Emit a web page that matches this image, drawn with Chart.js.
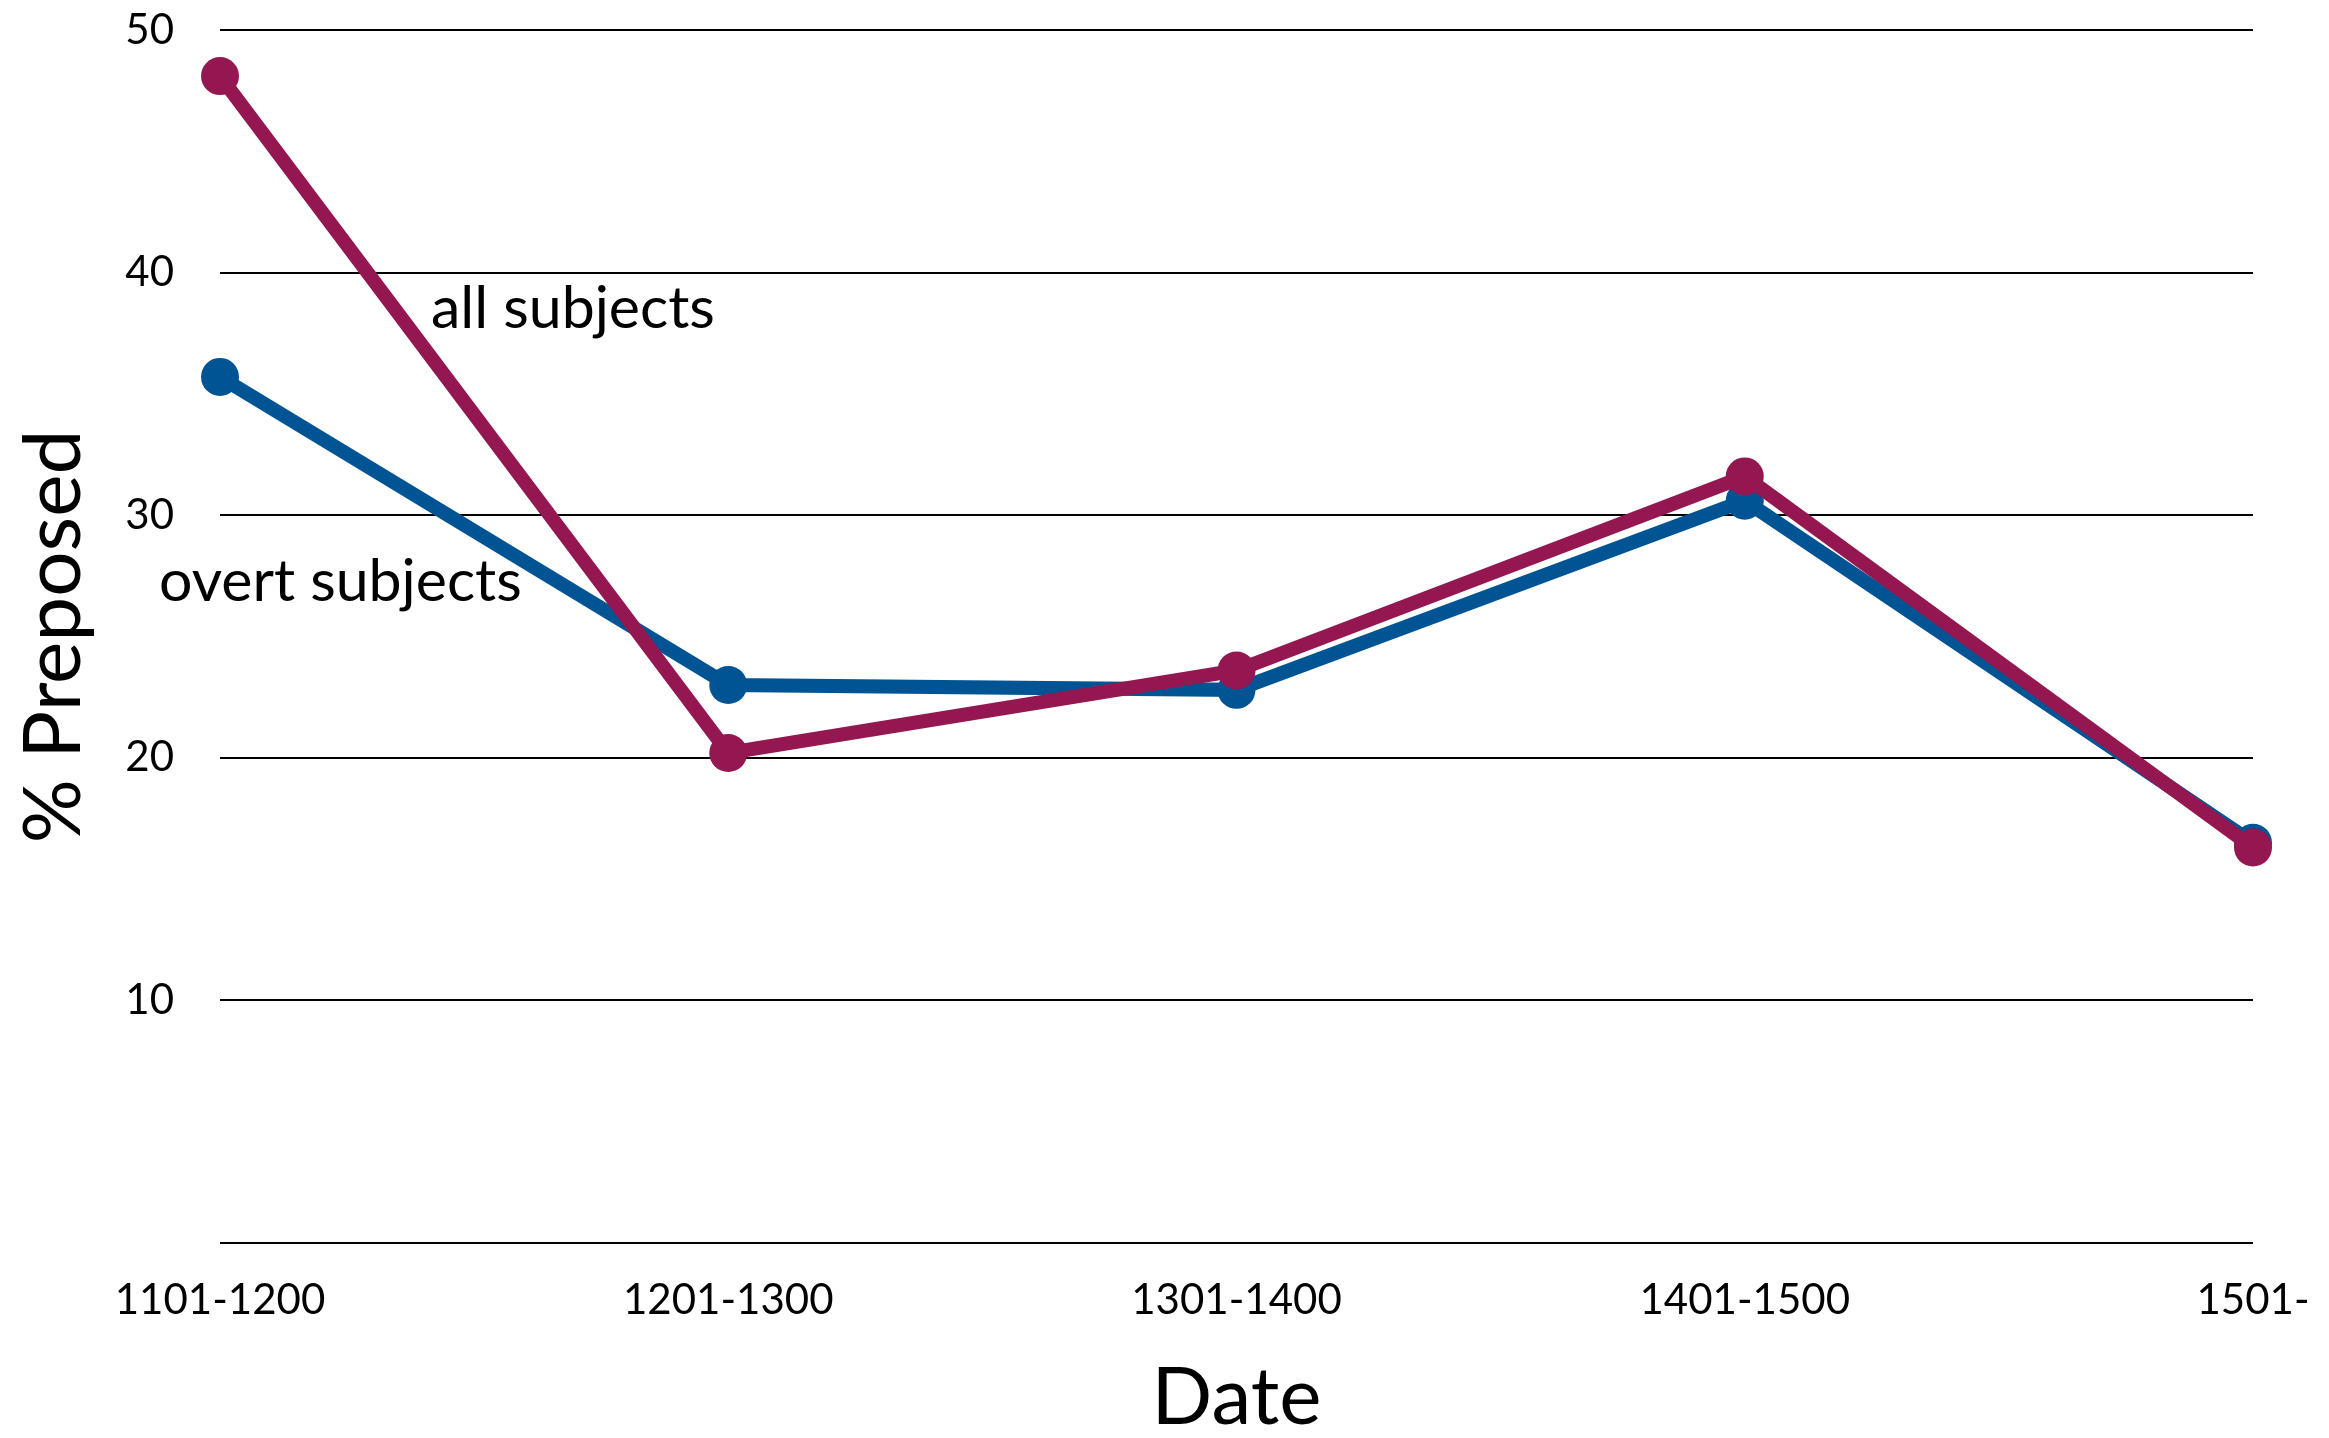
<!DOCTYPE html>
<html>
<head>
<meta charset="utf-8">
<title>% Preposed by Date</title>
<script src="https://cdn.jsdelivr.net/npm/chart.js@4"></script>
<style>
    html, body { margin: 0; padding: 0; background: #ffffff; }
    #chartWrap { width: 2329px; height: 1438px; }
</style>
</head>
<body>
<div id="chartWrap"><canvas id="preposedChart"></canvas></div>
<script>
// Chart data
const dateBands = ['1101-1200', '1201-1300', '1301-1400', '1401-1500', '1501-'];
const allSubjects = [48.1, 20.2, 23.6, 31.6, 16.3];
const overtSubjects = [35.7, 23.0, 22.8, 30.6, 16.5];
const yTicks = [0, 10, 20, 30, 40, 50];

// Series labels placed inside the plot, in data coordinates (category index, value)
const seriesNotes = [
    { text: 'all subjects', at: [0.415, 38.5] },
    { text: 'overt subjects', at: [-0.12, 27.25] }
];

const PURPLE = '#941751';
const BLUE = '#005493';
const FONT = "Lato, 'Open Sans', sans-serif";

document.addEventListener("DOMContentLoaded", () => {
    initPreposedChart();
});

/**
 * Writes the in-plot series labels next to their lines
 */
const noteLabels = {
    id: 'noteLabels',
    afterDatasetsDraw(chart) {
        const { ctx, scales: { x, y } } = chart;
        ctx.save();
        ctx.fillStyle = '#000000';
        ctx.font = `59px ${FONT}`;
        ctx.textAlign = 'left';
        ctx.textBaseline = 'middle';
        seriesNotes.forEach(note => {
            ctx.fillText(note.text, x.getPixelForValue(note.at[0]), y.getPixelForValue(note.at[1]));
        });
        ctx.restore();
    }
};

// Drop the label overhang padding so the plot box sits where the reference has it
function noOverhang(scale) {
    scale.paddingTop = 0;
    scale.paddingBottom = 0;
    scale.paddingLeft = 0;
    scale.paddingRight = 0;
}

/**
 * Builds the two-series line chart
 */
function initPreposedChart() {
    const ctx = document.getElementById('preposedChart');
    if (!ctx) return;

    new Chart(ctx, {
        type: 'line',
        data: {
            labels: dateBands,
            datasets: [
                {
                    label: 'all subjects',
                    data: allSubjects,
                    borderColor: PURPLE,
                    backgroundColor: PURPLE,
                    borderWidth: 14,
                    pointRadius: 19,
                    pointBorderWidth: 0,
                    tension: 0,
                    clip: false
                },
                {
                    label: 'overt subjects',
                    data: overtSubjects,
                    borderColor: BLUE,
                    backgroundColor: BLUE,
                    borderWidth: 14,
                    pointRadius: 19,
                    pointBorderWidth: 0,
                    tension: 0,
                    clip: false
                }
            ]
        },
        options: {
            responsive: true,
            maintainAspectRatio: false,
            animation: false,
            layout: { autoPadding: false, padding: { top: 30, right: 76, left: 0, bottom: 0 } },
            plugins: {
                legend: { display: false },
                tooltip: { enabled: false }
            },
            scales: {
                x: {
                    offset: false,
                    grid: { display: false, drawTicks: false },
                    border: { display: false },
                    ticks: {
                        color: '#000000',
                        font: { family: FONT, size: 42 },
                        padding: 32,
                        maxRotation: 0,
                        autoSkip: false
                    },
                    title: {
                        display: true,
                        text: 'Date',
                        color: '#000000',
                        font: { family: FONT, size: 80, lineHeight: 1 },
                        padding: { top: 0, bottom: 0 }
                    },
                    afterFit: scale => { noOverhang(scale); scale.height = 195; }
                },
                y: {
                    min: 0,
                    max: 50,
                    afterBuildTicks: scale => {
                        scale.ticks = yTicks.map(v => ({ value: v }));
                    },
                    grid: { color: '#000000', lineWidth: 2, drawTicks: false },
                    border: { display: false },
                    ticks: {
                        color: '#000000',
                        font: { family: FONT, size: 42 },
                        padding: 46,
                        callback: v => (v === 0 ? '' : v)
                    },
                    title: {
                        display: true,
                        text: '% Preposed',
                        color: '#000000',
                        font: { family: FONT, size: 80, lineHeight: 1.2 },
                        padding: { top: 6, bottom: 0 }
                    },
                    afterFit: scale => { noOverhang(scale); scale.width = 220; }
                }
            }
        },
        plugins: [noteLabels]
    });
}
</script>
</body>
</html>
